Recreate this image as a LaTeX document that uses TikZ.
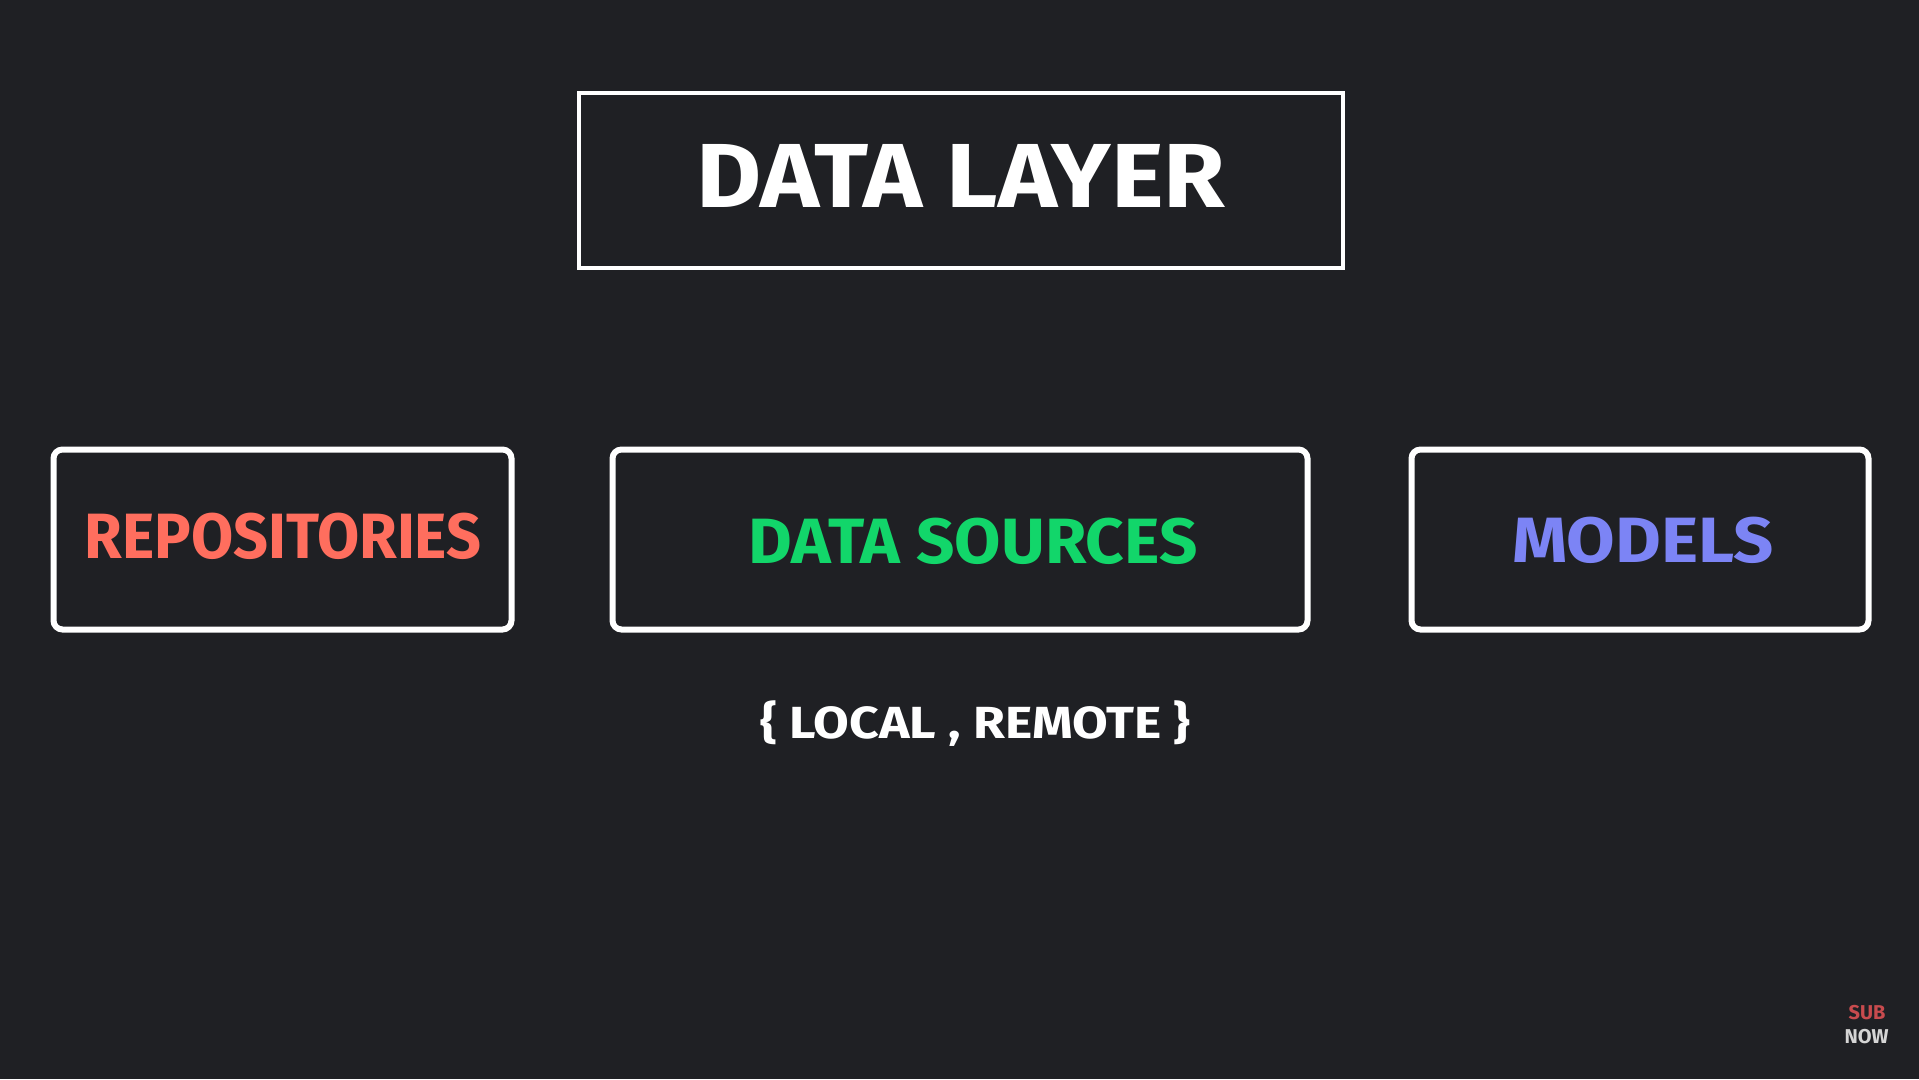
\documentclass[tikz,border=0pt]{standalone}
\usepackage{fontspec}
\setmainfont{Fira Sans}
\definecolor{bgcol}{HTML}{1F2024}
\definecolor{repocol}{HTML}{FF6E5E}
\definecolor{sourcecol}{HTML}{12D66A}
\definecolor{modelcol}{HTML}{7C84F5}
\definecolor{subcol}{HTML}{C84B4E}
\definecolor{nowcol}{HTML}{D5D5D5}
\newcommand{\widetext}[2]{\scalebox{#1}[1]{#2}}
\begin{document}
\begin{tikzpicture}[x=1pt, y=-1pt,
    box/.style={draw=white, line width=6pt, rounded corners=9pt, minimum height=180pt, inner sep=0pt},
    boxtext/.style={anchor=base, inner sep=0pt, font=\bfseries\fontsize{64}{70}\selectfont}]

  % Background
  \fill[bgcol] (0,0) rectangle (1919,1079);

  % Title
  \node[draw=white, line width=4pt, minimum width=764pt, minimum height=175pt, inner sep=0pt] (layer) at (961,180) {};
  \node[anchor=base, inner sep=0pt, text=white, font=\bfseries\fontsize{91}{100}\selectfont] (layertext) at (961,207) {\widetext{1.10}{DATA LAYER}};

  % The three parts
  \node[box, minimum width=458pt] (repos)   at (282.5,539.5) {};
  \node[box, minimum width=695pt] (sources) at (960,539.5) {};
  \node[box, minimum width=457pt] (models)  at (1640,539.5) {};

  \node[boxtext, text=repocol]   (repostext)   at (283,558) {\widetext{0.955}{REPOSITORIES}};
  \node[boxtext, text=sourcecol] (sourcestext) at (973,563) {\widetext{1.05}{DATA SOURCES}};
  \node[boxtext, text=modelcol]  (modelstext)  at (1643,562) {\widetext{1.10}{MODELS}};

  % Kinds of sources
  \node[anchor=base, inner sep=0pt, text=white, font=\bfseries\fontsize{45}{50}\selectfont] (kinds) at (975.5,738) {\widetext{1.15}{\{ LOCAL , REMOTE \}}};

  % Corner mark
  \node[anchor=base, inner sep=0pt, text=subcol, font=\bfseries\fontsize{20}{22}\selectfont] (sub) at (1867,1019) {SUB};
  \node[anchor=base, inner sep=0pt, text=nowcol, font=\bfseries\fontsize{20}{22}\selectfont] (now) at (1866.5,1043) {NOW};

\end{tikzpicture}
\end{document}
